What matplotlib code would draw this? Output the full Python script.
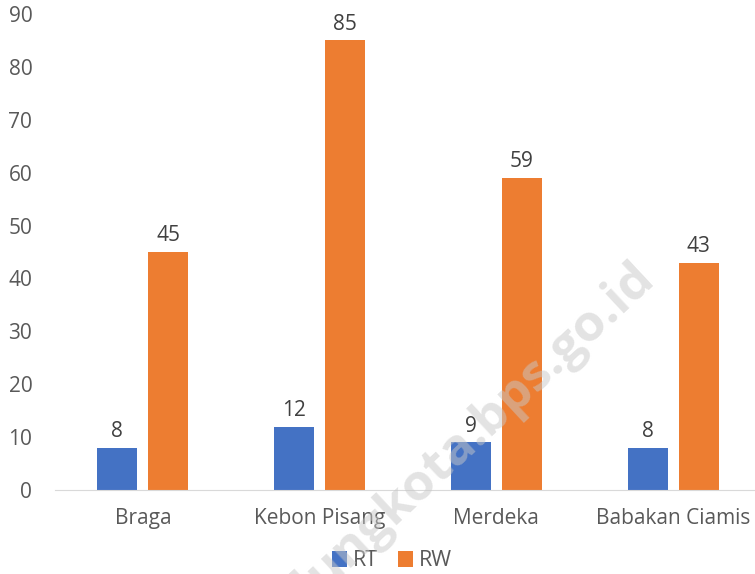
import numpy as np
import matplotlib
matplotlib.use("Agg")
import matplotlib.pyplot as plt

categories = ["Braga", "Kebon Pisang", "Merdeka", "Babakan Ciamis"]
rt_values = [8, 12, 9, 8]
rw_values = [45, 85, 59, 43]
y_ticks = [0, 10, 20, 30, 40, 50, 60, 70, 80, 90]

BLUE = "#4472C4"
ORANGE = "#ED7D31"
GREY = "#595959"

plt.rcParams["font.family"] = ["Open Sans", "DejaVu Sans"]

fig = plt.figure(figsize=(7.55, 5.74), dpi=100)
ax = fig.add_axes([54.5 / 755, 84 / 574, 707 / 755, 476 / 574])

x = np.arange(len(categories))
w = 0.226
off = 0.144
b1 = ax.bar(x - off, rt_values, w, color=BLUE, label="RT")
b2 = ax.bar(x + off, rw_values, w, color=ORANGE, label="RW")
for bars in (b1, b2):
    for r in bars:
        ax.annotate(f"{int(r.get_height())}", (r.get_x() + r.get_width() / 2, r.get_height()),
                    xytext=(0, 4), textcoords="offset points", ha="center", va="bottom",
                    fontsize=15, color="#404040")

ax.set_xlim(-0.5, len(categories) - 0.5)
ax.set_ylim(0, 90)
ax.set_yticks(y_ticks)
ax.set_xticks(x)
ax.set_xticklabels(categories)
ax.tick_params(axis="both", length=0, labelsize=15, labelcolor=GREY)
ax.tick_params(axis="x", pad=13)
ax.tick_params(axis="y", pad=16)
for s in ["top", "right", "left"]:
    ax.spines[s].set_visible(False)
ax.spines["bottom"].set_color("#D9D9D9")

leg = fig.legend(loc="center", bbox_to_anchor=(392 / 755, 1 - 561 / 574), ncol=2, frameon=False,
                 fontsize=15.5, handlelength=0.7, handleheight=0.7, handletextpad=0.3,
                 columnspacing=0.9, labelcolor=GREY, borderaxespad=0)

fig.text(656 / 755, 1 - 280 / 574, "bandungkota.bps.go.id", rotation=43, rotation_mode="anchor",
         ha="right", va="baseline", fontsize=37, fontweight="bold", color="#C8C8C8", alpha=0.5,
         zorder=10)

fig.savefig("out.png", dpi=100)
